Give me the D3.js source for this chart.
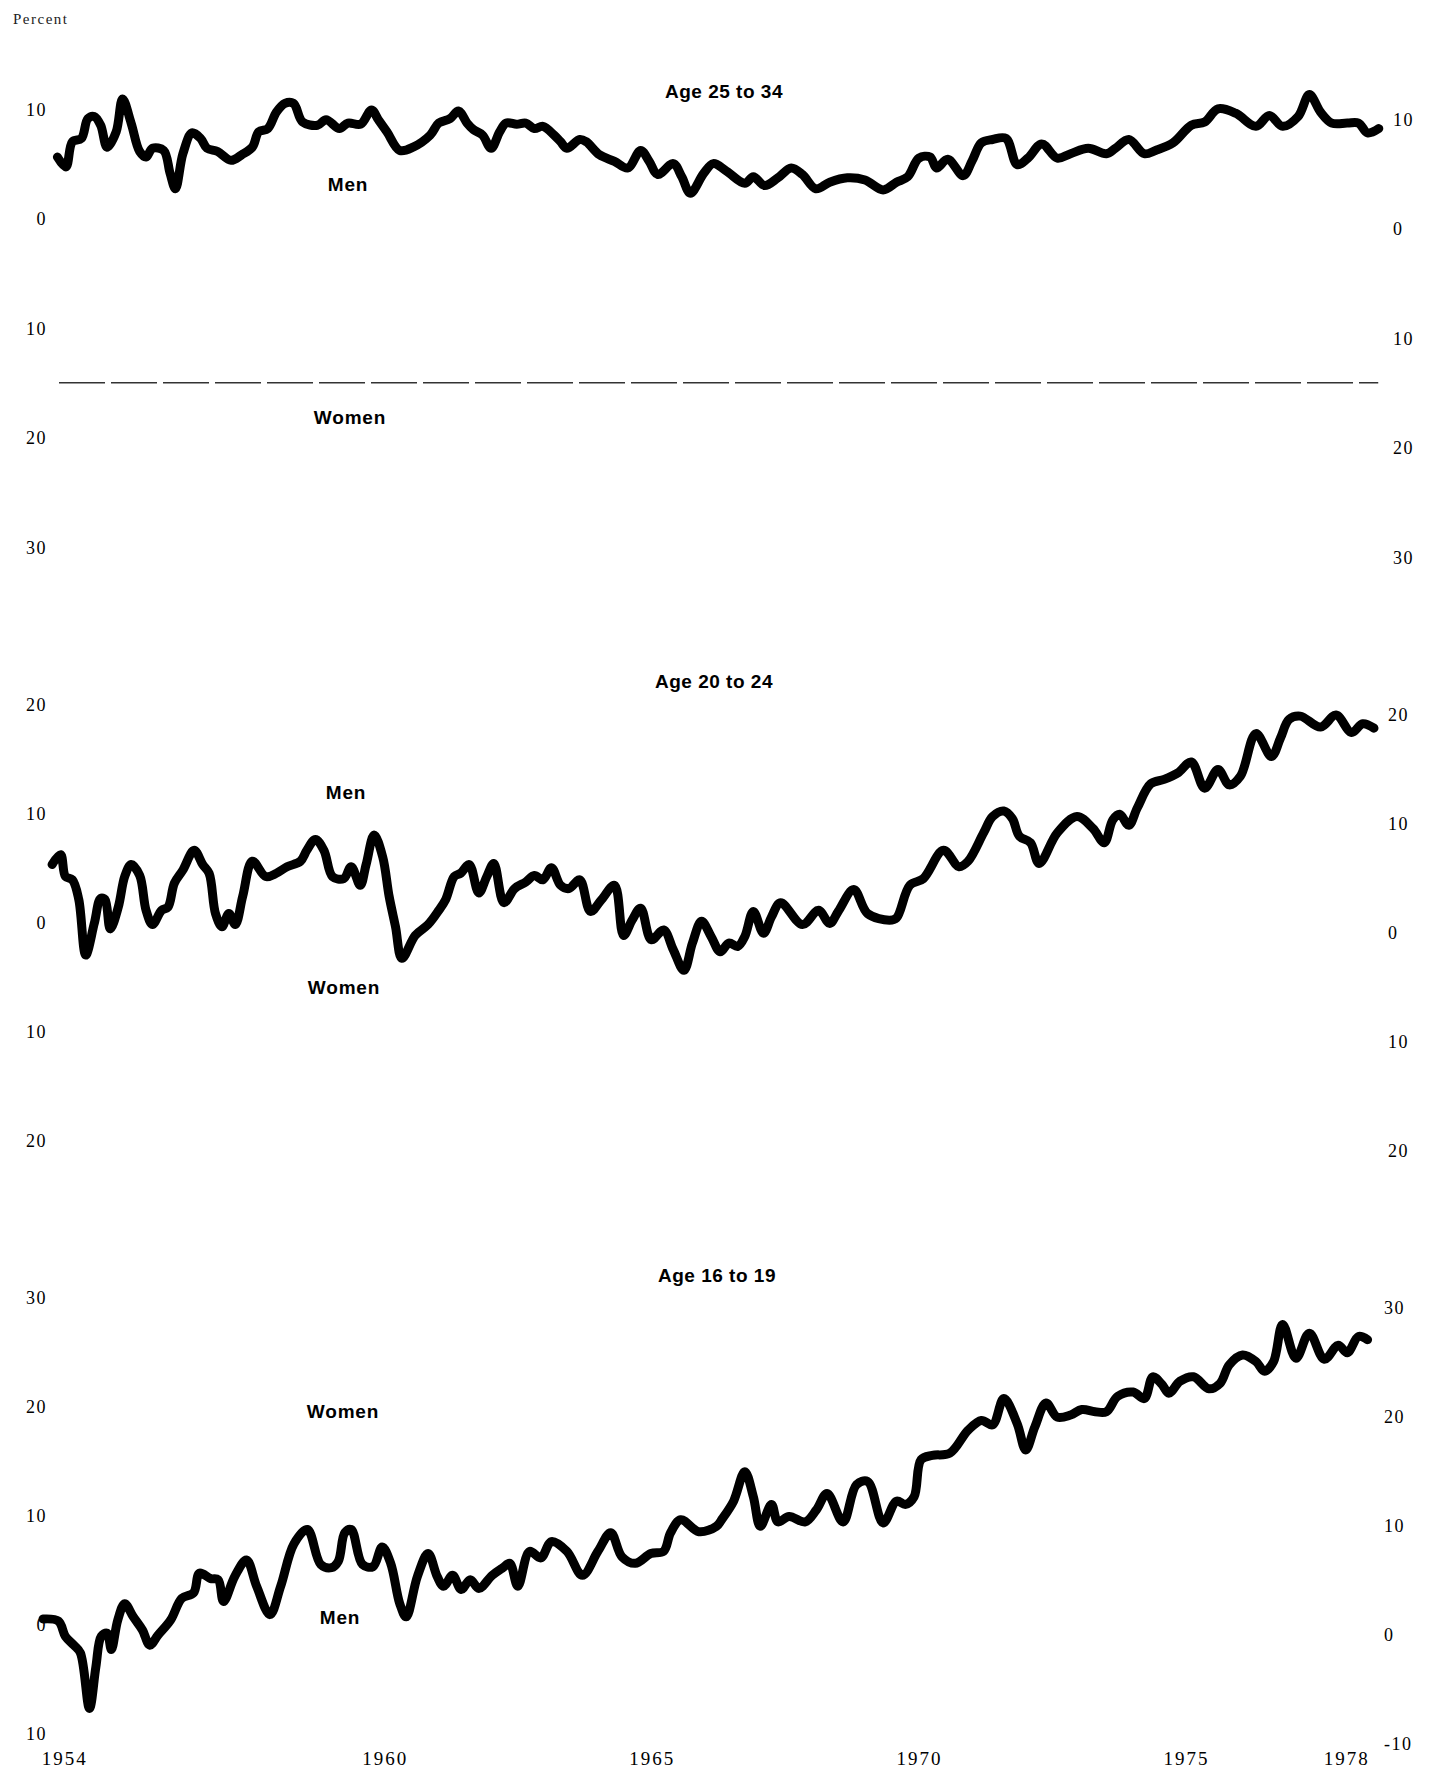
<!DOCTYPE html>
<html>
<head>
<meta charset="utf-8">
<script src="https://cdn.jsdelivr.net/npm/d3@7"></script>
<style>
  html, body { margin: 0; padding: 0; background: #fff; }
  svg { display: block; }
</style>
</head>
<body>
<div id="chart"></div>
<script>
// ---------------- DATA ----------------
// Age 25 to 34: percentage-point gap (men above 0, women below 0)
const times25 = [1954.12,1954.28,1954.40,1954.57,1954.69,1954.81,1954.93,1955.05,1955.22,1955.34,1955.50,1955.66,1955.78,1955.90,1956.11,1956.23,1956.33,1956.47,1956.64,1956.80,1956.92,1957.12,1957.37,1957.57,1957.77,1957.89,1958.06,1958.22,1958.38,1958.54,1958.71,1958.99,1959.15,1959.40,1959.56,1959.80,1960.00,1960.13,1960.29,1960.53,1960.78,1961.10,1961.26,1961.47,1961.63,1961.79,1961.91,1962.08,1962.24,1962.40,1962.52,1962.72,1962.89,1963.05,1963.21,1963.42,1963.54,1963.66,1963.90,1964.02,1964.27,1964.55,1964.80,1965.04,1965.20,1965.36,1965.65,1965.81,1965.97,1966.22,1966.40,1966.65,1966.99,1967.15,1967.36,1967.61,1967.86,1968.07,1968.32,1968.58,1968.91,1969.24,1969.58,1969.83,1970.04,1970.25,1970.46,1970.58,1970.79,1971.08,1971.25,1971.42,1971.63,1971.88,1972.09,1972.29,1972.55,1972.84,1973.09,1973.42,1973.76,1973.93,1974.18,1974.47,1974.68,1975.01,1975.35,1975.60,1975.85,1976.18,1976.56,1976.81,1977.06,1977.35,1977.56,1977.77,1977.98,1978.27,1978.48,1978.65,1978.86];
const gap25 = [6.1,5.2,7.5,7.8,9.6,9.8,9.0,7.0,8.4,11.4,9.2,6.6,6.1,6.9,6.7,4.6,3.2,6.4,8.3,7.8,6.9,6.6,5.8,6.3,7.0,8.4,8.7,10.2,11.0,11.0,9.3,9.0,9.5,8.7,9.2,9.1,10.4,9.5,8.4,6.7,7.0,8.1,9.2,9.6,10.3,9.2,8.6,8.1,6.9,8.4,9.2,9.1,9.2,8.7,8.9,8.1,7.5,6.9,7.7,7.5,6.3,5.7,5.1,6.7,5.7,4.5,5.5,4.3,2.8,4.6,5.5,4.8,3.7,4.3,3.5,4.2,5.1,4.5,3.2,3.8,4.2,4.0,3.1,3.8,4.3,6.0,6.1,5.1,5.9,4.4,5.8,7.4,7.7,7.8,5.4,6.0,7.3,6.0,6.4,6.9,6.4,6.9,7.7,6.4,6.7,7.4,9.0,9.3,10.5,10.1,8.9,9.9,8.9,9.8,11.8,10.2,9.2,9.2,9.2,8.3,8.7];

// Age 20 to 24
const times20 = [1954.02,1954.18,1954.27,1954.40,1954.52,1954.65,1954.81,1954.93,1955.01,1955.11,1955.26,1955.38,1955.50,1955.66,1955.78,1955.90,1956.07,1956.19,1956.31,1956.47,1956.68,1956.84,1956.96,1957.08,1957.20,1957.33,1957.45,1957.59,1957.77,1958.02,1958.22,1958.42,1958.67,1958.79,1958.95,1959.11,1959.27,1959.48,1959.62,1959.79,1959.90,1960.05,1960.21,1960.33,1960.45,1960.57,1960.82,1961.06,1961.26,1961.39,1961.55,1961.67,1961.83,1962.01,1962.16,1962.29,1962.48,1962.68,1962.89,1963.05,1963.21,1963.37,1963.54,1963.70,1963.90,1964.10,1964.31,1964.55,1964.72,1964.88,1965.04,1965.24,1965.47,1965.65,1965.85,1966.01,1966.18,1966.36,1966.53,1966.69,1966.86,1966.99,1967.15,1967.34,1967.49,1967.66,1968.07,1968.37,1968.58,1968.74,1969.03,1969.29,1969.70,1969.83,1970.08,1970.33,1970.71,1971.00,1971.17,1971.46,1971.63,1971.84,1972.00,1972.13,1972.34,1972.50,1972.84,1973.21,1973.51,1973.72,1973.88,1974.01,1974.18,1974.34,1974.59,1974.84,1975.10,1975.35,1975.60,1975.85,1976.06,1976.27,1976.56,1976.85,1977.02,1977.18,1977.39,1977.77,1978.06,1978.35,1978.56,1978.77];
const gap20 = [5.8,6.7,4.7,4.4,2.6,-2.5,0.4,2.7,2.6,-0.1,1.9,4.7,5.8,4.8,1.6,0.3,1.6,1.9,4.1,5.3,7.1,5.8,5.0,1.3,0.1,1.3,0.3,2.9,6.1,4.7,5.0,5.6,6.1,7.1,8.1,7.1,4.7,4.5,5.6,3.9,5.8,8.5,6.5,2.9,0.1,-2.8,-0.7,0.3,1.6,2.6,4.7,5.0,5.8,3.2,4.7,5.9,2.3,3.6,4.2,4.8,4.4,5.5,3.9,3.6,4.4,1.5,2.6,3.9,-0.7,0.7,1.8,-1.1,-0.2,-2.0,-3.9,-1.4,0.6,-0.8,-2.2,-1.4,-1.7,-0.8,1.5,-0.5,1.0,2.3,0.3,1.6,0.4,1.5,3.5,1.3,0.7,0.9,3.9,4.5,7.1,5.6,6.1,8.7,10.2,10.7,10.0,8.4,7.8,5.9,8.7,10.2,9.1,7.8,9.9,10.4,9.4,11.0,13.2,13.6,14.2,15.2,12.8,14.5,13.1,13.9,17.8,15.7,17.4,19.1,19.4,18.4,19.5,17.9,18.7,18.3];

// Age 16 to 19 (women above 0, men below 0)
const times16 = [1953.85,1954.14,1954.27,1954.43,1954.55,1954.72,1954.84,1954.94,1955.05,1955.13,1955.25,1955.38,1955.54,1955.71,1955.85,1956.00,1956.24,1956.45,1956.67,1956.78,1956.99,1957.13,1957.23,1957.44,1957.66,1957.85,1958.10,1958.30,1958.55,1958.80,1959.05,1959.25,1959.38,1959.50,1959.62,1959.83,1960.03,1960.20,1960.36,1960.53,1960.65,1960.86,1961.06,1961.23,1961.35,1961.52,1961.68,1961.85,1962.01,1962.26,1962.46,1962.59,1962.74,1962.96,1963.17,1963.37,1963.66,1963.95,1964.24,1964.48,1964.69,1964.94,1965.23,1965.47,1965.60,1965.79,1966.13,1966.46,1966.57,1966.78,1966.99,1967.15,1967.28,1967.49,1967.61,1967.82,1968.12,1968.33,1968.53,1968.83,1969.08,1969.29,1969.58,1969.83,1970.00,1970.16,1970.29,1970.50,1970.83,1971.17,1971.42,1971.63,1971.84,1972.09,1972.25,1972.42,1972.63,1972.84,1973.09,1973.30,1973.55,1973.76,1973.97,1974.26,1974.47,1974.63,1974.80,1974.93,1975.14,1975.39,1975.68,1975.89,1976.06,1976.31,1976.56,1976.72,1976.89,1977.06,1977.31,1977.56,1977.84,1978.10,1978.27,1978.48,1978.65];
const gap16 = [1.0,0.8,-0.6,-1.4,-2.1,-7.2,-3.4,-0.6,-0.3,-1.8,0.9,2.4,1.2,0.0,-1.4,-0.5,0.9,2.9,3.4,5.2,4.7,4.6,2.6,4.9,6.4,4.0,1.4,4.0,7.9,9.2,6.0,5.7,6.3,8.9,9.2,6.0,5.8,7.6,6.1,2.4,1.2,4.9,7.0,4.9,4.0,5.0,3.7,4.6,3.8,5.0,5.7,6.1,4.0,7.2,6.6,8.1,7.2,5.0,7.2,8.9,6.7,6.1,7.0,7.2,8.9,10.1,9.0,9.5,10.2,11.8,14.5,12.2,9.5,11.5,9.9,10.4,9.9,11.0,12.5,9.9,13.3,13.6,9.8,11.8,11.5,12.2,15.6,16.0,16.2,18.3,19.2,18.8,21.2,18.9,16.5,18.6,20.8,19.5,19.7,20.2,20.0,20.0,21.4,21.8,21.2,23.2,22.5,21.7,22.8,23.2,22.1,22.6,24.3,25.2,24.6,23.7,24.6,28.0,24.9,27.2,24.8,26.1,25.4,26.9,26.6];

// Tick values and labels
const xTickYears = [1954, 1960, 1965, 1970, 1975, 1978];
const ticks25 = [10, 0, -10, -20, -30];
const leftLabels25 = ["10", "0", "10", "20", "30"];
const rightLabels25 = ["10", "0", "10", "20", "30"];
const ticks20 = [20, 10, 0, -10, -20];
const leftLabels20 = ["20", "10", "0", "10", "20"];
const rightLabels20 = ["20", "10", "0", "10", "20"];
const ticks16 = [30, 20, 10, 0, -10];
const leftLabels16 = ["30", "20", "10", "0", "10"];
const rightLabels16 = ["30", "20", "10", "0", "-10"];
const panelTitles = ["Age 25 to 34", "Age 20 to 24", "Age 16 to 19"];
const upperLabels = ["Men", "Men", "Women"];
const lowerLabels = ["Women", "Women", "Men"];
const refLine25 = -14.5;
const unitLabel = "Percent";

// ---------------- LAYOUT ----------------
const W = 1438, H = 1780;
const svg = d3.select("#chart").append("svg")
  .attr("width", W).attr("height", H)
  .attr("viewBox", `0 0 ${W} ${H}`);
svg.append("rect").attr("width", W).attr("height", H).attr("fill", "#fff");

const x = d3.scaleLinear().domain([1954, 1979]).range([51, 1386.25]);

const serif = "'Liberation Serif', 'DejaVu Serif', serif";
const sans = "'Liberation Sans', Arial, 'DejaVu Sans', sans-serif";

const panels = [
  { times: times25, vals: gap25, ticks: ticks25, left: leftLabels25, right: rightLabels25,
    domain: [-30, 10], range: [552.5, 114.3], titleX: 724, titleY: 91,
    up: [348, 184], low: [350, 417], rightX: 1393 },
  { times: times20, vals: gap20, ticks: ticks20, left: leftLabels20, right: rightLabels20,
    domain: [-20, 20], range: [1146.0, 709.6], titleX: 714, titleY: 681,
    up: [346, 792], low: [344, 987], rightX: 1388 },
  { times: times16, vals: gap16, ticks: ticks16, left: leftLabels16, right: rightLabels16,
    domain: [-10, 30], range: [1739.0, 1302.6], titleX: 717, titleY: 1275,
    up: [343, 1411], low: [340, 1617], rightX: 1384 }
];

function styleAxis(g) {
  g.select(".domain").remove();
  g.selectAll(".tick line").remove();
  g.attr("font-size", null).attr("font-family", null);
  g.selectAll("text")
    .attr("font-family", serif)
    .attr("font-size", 18)
    .attr("letter-spacing", 1.5)
    .attr("fill", "#000");
}

panels.forEach((p, i) => {
  const y = d3.scaleLinear().domain(p.domain).range(p.range);
  const yLeft = y.copy().range(p.range.map(r => r - 5));
  const yRight = y.copy().range(p.range.map(r => r + 5));

  // Left axis labels
  svg.append("g")
    .attr("transform", "translate(47,0)")
    .call(d3.axisLeft(yLeft).tickValues(p.ticks).tickSize(0).tickPadding(0)
      .tickFormat((d, k) => p.left[k]))
    .call(styleAxis);

  // Right axis labels
  svg.append("g")
    .attr("transform", `translate(${p.rightX},0)`)
    .call(d3.axisRight(yRight).tickValues(p.ticks).tickSize(0).tickPadding(0)
      .tickFormat((d, k) => p.right[k]))
    .call(styleAxis);

  // Reference line (top panel)
  if (i === 0) {
    svg.append("line")
      .attr("x1", x(1954.15)).attr("x2", x(1978.85))
      .attr("y1", y(refLine25)).attr("y2", y(refLine25))
      .attr("stroke", "#333").attr("stroke-width", 1.6)
      .attr("stroke-dasharray", "46 6");
  }

  // Series line
  const pts = p.times.map((t, k) => ({ t, v: p.vals[k] })).filter(d => d.v != null);
  svg.append("path")
    .datum(pts)
    .attr("fill", "none")
    .attr("stroke", "#000")
    .attr("stroke-width", 9)
    .attr("stroke-linejoin", "round")
    .attr("stroke-linecap", "round")
    .attr("d", d3.line().curve(d3.curveCatmullRom.alpha(0.5))
      .x(d => x(d.t)).y(d => y(d.v)));

  // Title
  svg.append("text")
    .attr("x", p.titleX).attr("y", p.titleY)
    .attr("text-anchor", "middle").attr("dominant-baseline", "central")
    .attr("font-family", sans).attr("font-weight", "bold")
    .attr("font-size", 19).attr("letter-spacing", 0.5)
    .attr("fill", "#000")
    .text(panelTitles[i]);

  // Men / Women labels
  [[upperLabels[i], p.up], [lowerLabels[i], p.low]].forEach(([txt, pos]) => {
    svg.append("text")
      .attr("x", pos[0]).attr("y", pos[1])
      .attr("text-anchor", "middle").attr("dominant-baseline", "central")
      .attr("font-family", sans).attr("font-weight", "bold")
      .attr("font-size", 19).attr("letter-spacing", 0.8)
      .attr("fill", "#000")
      .text(txt);
  });
});

// Bottom year axis
svg.append("g")
  .attr("transform", "translate(0,1751)")
  .call(d3.axisBottom(x).tickValues(xTickYears.map(yr => yr + 0.25)).tickSize(0).tickPadding(0)
    .tickFormat((d, k) => String(xTickYears[k])))
  .call(g => {
    g.select(".domain").remove();
    g.selectAll(".tick line").remove();
    g.attr("font-size", null).attr("font-family", null);
    g.selectAll("text")
      .attr("font-family", serif)
      .attr("font-size", 19)
      .attr("letter-spacing", 2)
      .attr("fill", "#000");
  });

// Unit label
svg.append("text")
  .attr("x", 13).attr("y", 24)
  .attr("font-family", serif).attr("font-size", 15)
  .attr("letter-spacing", 1.5).attr("fill", "#222")
  .text(unitLabel);
</script>
</body>
</html>
